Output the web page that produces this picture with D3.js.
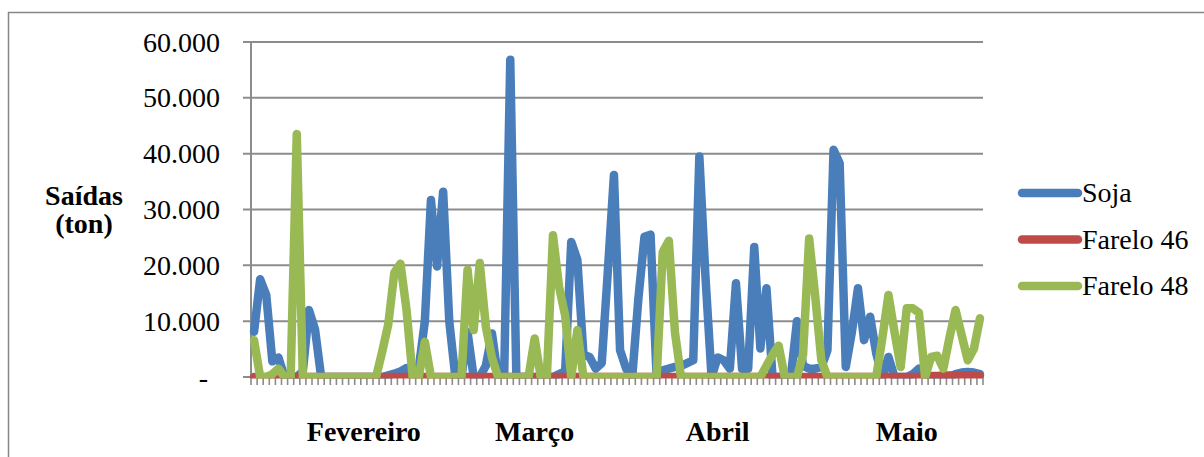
<!DOCTYPE html>
<html>
<head>
<meta charset="utf-8">
<script src="https://cdn.jsdelivr.net/npm/d3@7"></script>
<style>
  html, body { margin: 0; padding: 0; background: #fff; }
  svg { display: block; font-family: "Liberation Serif", "Times New Roman", serif; }
</style>
</head>
<body>
<svg id="chart" width="1204" height="457"></svg>
<script>
// Daily shipments (ton), February to May
const soja = [
  8100, 17500, 14700, 2800, 3500, 0, 0, 0, 1000, 12000,
  8500, 0, 0, 0, 0, 0, 0, 0, 0, 0,
  0, 0, 300, 600, 1000, 1600, 1000, 1500, 10000, 31700,
  19800, 33200, 10000, 0, 0, 8000, 0, 0, 2000, 7800,
  0, 0, 56800, 0, 0, 0, 0, 0, 0, 0,
  500, 1000, 24200, 21000, 4000, 3600, 1500, 2500, 19000, 36200,
  4800, 1500, 0, 14000, 25100, 25500, 0, 1200, 1500, 1800,
  2000, 2500, 3000, 39500, 18000, 0, 3500, 3000, 1500, 16800,
  1500, 1500, 23300, 5100, 15900, 0, 0, 0, 0, 10000,
  2000, 1500, 1500, 1800, 4800, 40700, 38300, 1800, 8000, 15900,
  6600, 10800, 4200, 0, 3600, 0, 0, 0, 500, 1500,
  500, 0, 0, 0, 0, 500, 800, 900, 800, 500
];
const farelo46 = [
  0, 0, 0, 0, 0, 0, 0, 0, 0, 0,
  0, 0, 0, 0, 0, 0, 0, 0, 0, 0,
  0, 0, 0, 0, 0, 0, 0, 0, 0, 0,
  0, 0, 0, 0, 0, 0, 0, 0, 0, 0,
  0, 0, 0, 0, 0, 0, 0, 0, 0, 0,
  0, 0, 0, 0, 0, 0, 0, 0, 0, 0,
  0, 0, 0, 0, 0, 0, 0, 0, 0, 0,
  0, 0, 0, 0, 0, 0, 0, 0, 0, 0,
  0, 0, 0, 0, 0, 0, 0, 0, 0, 0,
  0, 0, 0, 0, 0, 0, 0, 0, 0, 0,
  0, 0, 0, 0, 0, 0, 0, 0, 0, 0,
  200, 200, 200, 250, 250, 250, 300, 300, 250, 200
];
const farelo48 = [
  6600, 0, 0, 500, 1500, 0, 0, 43500, 0, 0,
  0, 0, 0, 0, 0, 0, 0, 0, 0, 0,
  0, 4500, 9400, 18700, 20300, 12000, 0, 0, 6300, 0,
  0, 0, 0, 0, 0, 19200, 8400, 20400, 9000, 3500,
  0, 0, 0, 0, 0, 0, 6900, 0, 0, 25400,
  16200, 11000, 0, 8400, 0, 0, 0, 0, 0, 0,
  0, 0, 0, 0, 0, 0, 0, 22400, 24400, 8000,
  0, 0, 0, 0, 0, 0, 0, 0, 0, 0,
  0, 0, 0, 0, 2000, 4000, 5600, 0, 0, 0,
  4000, 24800, 14400, 3000, 0, 0, 0, 0, 0, 0,
  0, 0, 0, 7000, 14700, 8000, 1800, 12300, 12300, 11500,
  0, 3600, 3800, 1500, 7000, 12000, 7500, 3000, 5000, 10500
];

const seriesNames = ["Soja", "Farelo 46", "Farelo 48"];
const seriesColors = ["#4a7ebb", "#be4b48", "#98b954"];
const yTicks = [0, 10000, 20000, 30000, 40000, 50000, 60000];
const monthLabels = ["Fevereiro", "Março", "Abril", "Maio"];
const monthIndex = [18, 46, 76, 107];
const yTitle = ["Saídas", "(ton)"];

const svg = d3.select("#chart");
const N = soja.length;

const plotLeft = 251, plotRight = 983, plotTop = 42, plotBottom = 377;
const x = d3.scaleBand().domain(d3.range(N)).range([plotLeft, plotRight]).paddingInner(0).paddingOuter(0);
const y = d3.scaleLinear().domain([0, 60000]).range([plotBottom, plotTop]);
const cx = i => x(i) + x.bandwidth() / 2;

const ptBR = d3.formatLocale({ decimal: ",", thousands: ".", grouping: [3], currency: ["R$", ""] });
const fmt = ptBR.format(",.0f");

// Outer chart frame
svg.append("rect")
  .attr("x", 8.5).attr("y", 12.5)
  .attr("width", 1210).attr("height", 470)
  .attr("fill", "none").attr("stroke", "#868686").attr("stroke-width", 1.5);

// Horizontal gridlines (extended left as tick marks)
svg.append("g").selectAll("line").data(yTicks).join("line")
  .attr("x1", plotLeft - 8).attr("x2", plotRight)
  .attr("y1", d => y(d)).attr("y2", d => y(d))
  .attr("stroke", "#8c8c8c").attr("stroke-width", 2);

// Vertical value axis line
svg.append("line")
  .attr("x1", plotLeft).attr("x2", plotLeft)
  .attr("y1", plotTop).attr("y2", plotBottom + 1)
  .attr("stroke", "#8c8c8c").attr("stroke-width", 2);

// Category tick marks between days
svg.append("g").selectAll("line").data(d3.range(N + 1)).join("line")
  .attr("x1", k => plotLeft + k * x.step()).attr("x2", k => plotLeft + k * x.step())
  .attr("y1", plotBottom + 1).attr("y2", plotBottom + 8)
  .attr("stroke", "#8c8c8c").attr("stroke-width", 1.6);

// Value axis labels
svg.append("g").selectAll("text").data(yTicks).join("text")
  .attr("x", d => d === 0 ? 208 : 220)
  .attr("y", d => y(d) + 9.5)
  .attr("text-anchor", "end")
  .attr("font-size", 28)
  .attr("fill", "#000")
  .text(d => d === 0 ? "-" : fmt(d));

// Axis title
svg.append("g").selectAll("text").data(yTitle).join("text")
  .attr("x", 84)
  .attr("y", (d, i) => 205 + i * 28)
  .attr("text-anchor", "middle")
  .attr("font-size", 28)
  .attr("font-weight", "bold")
  .text(d => d);

// Month labels
svg.append("g").selectAll("text").data(monthLabels).join("text")
  .attr("x", (d, i) => cx(monthIndex[i]))
  .attr("y", 441)
  .attr("text-anchor", "middle")
  .attr("font-size", 28)
  .attr("font-weight", "bold")
  .text(d => d);

// Series lines, clipped to the plot area
svg.append("clipPath").attr("id", "plotClip")
  .append("rect").attr("x", plotLeft - 10).attr("y", 0)
  .attr("width", plotRight - plotLeft + 20).attr("height", plotBottom + 1.5);

const line = d3.line().x((d, i) => cx(i)).y(d => y(d));
const allSeries = [soja, farelo46, farelo48];

svg.append("g").attr("clip-path", "url(#plotClip)")
  .selectAll("path").data(allSeries).join("path")
  .attr("d", d => line(d))
  .attr("fill", "none")
  .attr("stroke", (d, i) => seriesColors[i])
  .attr("stroke-width", 8.5)
  .attr("stroke-linejoin", "round")
  .attr("stroke-linecap", "round");

// Legend
const legendY = [193, 239.5, 286];
const lg = svg.append("g").selectAll("g").data(seriesNames).join("g");
lg.append("line")
  .attr("x1", 1022).attr("x2", 1078)
  .attr("y1", (d, i) => legendY[i]).attr("y2", (d, i) => legendY[i])
  .attr("stroke", (d, i) => seriesColors[i])
  .attr("stroke-width", 8.5)
  .attr("stroke-linecap", "round");
lg.append("text")
  .attr("x", 1082)
  .attr("y", (d, i) => legendY[i] + 9)
  .attr("font-size", 28)
  .text(d => d);
</script>
</body>
</html>
